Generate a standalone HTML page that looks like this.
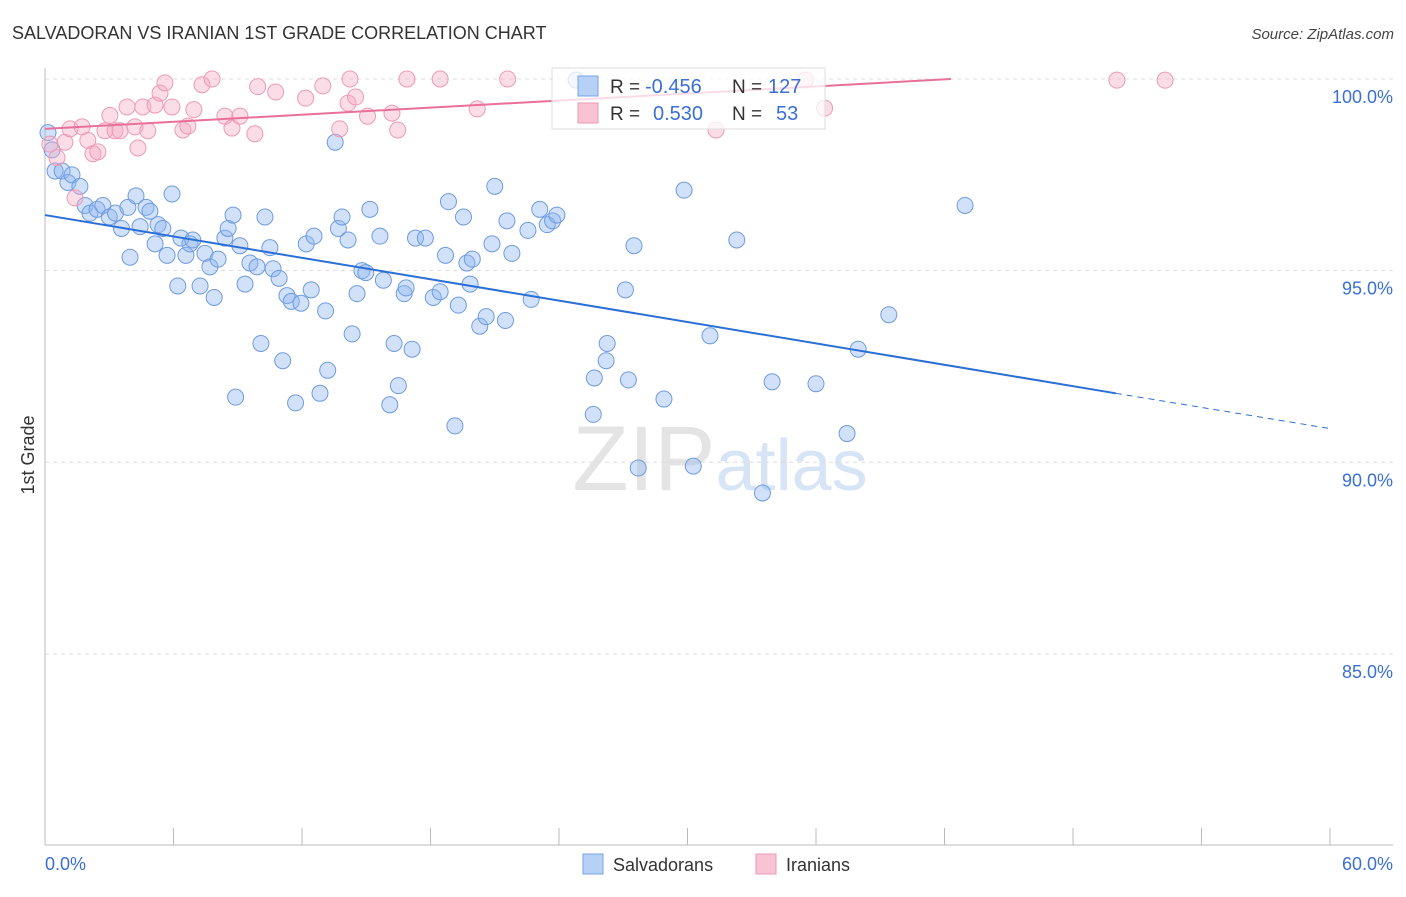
<!DOCTYPE html>
<html><head><meta charset="utf-8"><style>
body{margin:0;background:#fff;font-family:"Liberation Sans",sans-serif;}
svg text{font-family:"Liberation Sans",sans-serif;}
</style></head><body>
<svg id="chart" width="1406" height="892" xmlns="http://www.w3.org/2000/svg">
<text x="12" y="39" font-size="18" fill="#333">SALVADORAN VS IRANIAN 1ST GRADE CORRELATION CHART</text>
<text x="1394" y="39" font-size="15" fill="#444" text-anchor="end" font-style="italic">Source: ZipAtlas.com</text>
<text x="720" y="490" font-size="92" fill="#e4e4e4" text-anchor="middle" font-family="Liberation Serif">ZIP<tspan fill="#d6e4f5" font-family="Liberation Sans" font-size="72">atlas</tspan></text>
<text transform="translate(34,455) rotate(-90)" font-size="18" fill="#333" text-anchor="middle">1st Grade</text>
<g id="grid"></g><g id="axes"></g><g id="pts"></g><g id="lines"></g>
<g>
<rect x="552" y="68" width="273" height="61" fill="rgba(255,255,255,0.75)" stroke="#ddd"/>
<rect x="578" y="76" width="20" height="20" fill="#b7d0f5" stroke="#7aa6e8"/>
<rect x="578" y="103" width="20" height="20" fill="#f8c4d4" stroke="#eb9ab4"/>
<text x="610" y="93" font-size="19" fill="#333">R =</text>
<text x="645" y="93" font-size="20" fill="#3a6fd8">-0.456</text>
<text x="732" y="93" font-size="19" fill="#333">N =</text>
<text x="768" y="93" font-size="20" fill="#3a6fd8">127</text>
<text x="610" y="120" font-size="19" fill="#333">R =</text>
<text x="653" y="120" font-size="20" fill="#3a6fd8">0.530</text>
<text x="732" y="120" font-size="19" fill="#333">N =</text>
<text x="776" y="120" font-size="20" fill="#3a6fd8">53</text>
</g>
<g>
<rect x="583" y="854" width="20" height="20" fill="#b7d0f5" stroke="#7aa6e8"/>
<text x="613" y="871" font-size="18" fill="#333">Salvadorans</text>
<rect x="756" y="854" width="20" height="20" fill="#f8c4d4" stroke="#eb9ab4"/>
<text x="786" y="871" font-size="18" fill="#333">Iranians</text>
</g>
</svg>
<script>
const blueX=[0.14,0.33,0.47,0.8,1.07,1.26,1.63,1.87,2.1,2.43,2.7,3.0,3.29,3.57,3.87,3.97,4.25,4.44,4.72,4.9,5.14,5.28,5.5,5.7,5.93,6.2,6.35,6.58,6.77,6.9,7.24,7.47,7.7,7.9,8.08,8.4,8.55,8.78,8.9,9.1,9.34,9.57,9.9,10.08,10.27,10.5,10.65,10.93,11.1,11.3,11.5,11.7,11.95,12.2,12.43,12.56,12.84,13.1,13.2,13.55,13.7,13.87,14.15,14.34,14.57,14.8,14.98,15.17,15.64,15.8,16.3,16.1,16.5,16.77,16.86,17.14,17.3,17.76,18.13,18.45,18.7,18.84,19.14,19.3,19.54,19.7,19.95,19.85,20.3,20.6,20.87,21.0,21.5,21.57,21.8,22.55,22.7,23.1,23.45,23.7,23.9,24.8,25.65,25.6,26.2,26.25,27.1,27.24,27.5,27.7,28.9,29.84,30.27,31.05,32.3,33.5,33.95,36.0,37.45,37.97,39.4,42.96];
const blueY=[98.6,98.15,97.6,97.6,97.3,97.5,97.2,96.7,96.5,96.6,96.7,96.4,96.5,96.1,96.65,95.35,96.95,96.15,96.65,96.55,95.7,96.2,96.1,95.4,97.0,94.6,95.85,95.4,95.7,95.8,94.6,95.45,95.1,94.3,95.3,95.85,96.1,96.45,91.7,95.65,94.65,95.2,95.1,93.1,96.4,95.6,95.05,94.8,92.65,94.35,94.2,91.55,94.15,95.7,94.5,95.9,91.8,93.95,92.4,98.35,96.1,96.4,95.8,93.35,94.4,95.0,94.95,96.6,95.9,94.75,93.1,91.5,92.0,94.4,94.55,92.95,95.85,95.85,94.3,94.45,95.4,96.8,90.95,94.1,96.4,95.2,95.3,94.65,93.55,93.8,95.7,97.2,93.7,96.3,95.45,96.05,94.25,96.6,96.2,96.3,96.45,99.97,92.2,91.25,92.65,93.1,94.5,92.15,95.65,89.85,91.65,97.1,89.9,93.3,95.8,89.2,92.1,92.05,90.75,92.95,93.85,96.7];
const pinkX=[0.23,0.56,0.93,1.17,1.4,1.73,2.0,2.24,2.47,2.8,3.03,3.27,3.5,3.83,4.2,4.34,4.57,4.8,5.14,5.37,5.6,5.93,6.44,6.67,6.95,7.33,7.8,8.4,8.73,9.1,9.8,9.93,10.77,12.17,12.97,13.76,14.15,14.24,14.5,15.06,16.2,16.47,16.9,18.45,20.18,21.6,31.33,35.5,36.4,50.05,52.3];
const pinkY=[98.3,97.95,98.35,98.7,96.9,98.75,98.4,98.05,98.1,98.65,99.05,98.65,98.65,99.27,98.75,98.2,99.27,98.65,99.32,99.63,99.9,99.27,98.67,98.77,99.2,99.85,100,99.03,98.72,99.03,98.57,99.8,99.66,99.5,99.82,98.7,99.37,100,99.53,99.03,99.11,98.67,100,100,99.22,100,98.67,99.97,99.24,99.97,99.97];
const yTicks=[100,95,90,85];
const yTickLabels=["100.0%","95.0%","90.0%","85.0%"];
const blueTrend=[[0,96.45],[50,91.8],[60,90.88]];
const pinkTrend=[[0,98.7],[42.3,100]];
const NS="http://www.w3.org/2000/svg";
const sx=v=>45+v*1285/60, sy=v=>79+(100-v)*38.33;
function mk(t,a,p){const e=document.createElementNS(NS,t);for(const k in a)e.setAttribute(k,a[k]);p.appendChild(e);return e;}
const grid=document.getElementById('grid'),axes=document.getElementById('axes'),pts=document.getElementById('pts'),lines=document.getElementById('lines');
yTicks.forEach((v,i)=>{
 const l=mk('line',{x1:45,x2:1393,y1:sy(v),y2:sy(v),stroke:'#ddd','stroke-dasharray':'4,4'},grid);
 
 
 const t=mk('text',{x:1393,y:sy(v)+24,'font-size':18,fill:'#3a6fd8','text-anchor':'end'},axes);t.textContent=yTickLabels[i];
 
 
});
const ya=mk('line',{x1:45,x2:45,y1:68,y2:845,stroke:'#bbb'},axes);


const xa=mk('line',{x1:45,x2:1393,y1:845,y2:845,stroke:'#bbb'},axes);


for(let i=0;i<=10;i++){const tk=mk('line',{x1:sx(i*6),x2:sx(i*6),y1:828,y2:845,stroke:'#bbb'},axes);
 
 }
const x0=mk('text',{x:45,y:870,'font-size':18,fill:'#3a6fd8'},axes);x0.textContent='0.0%';


const x1=mk('text',{x:1393,y:870,'font-size':18,fill:'#3a6fd8','text-anchor':'end'},axes);x1.textContent='60.0%';


blueX.forEach((x,i)=>{const c=mk('circle',{cx:sx(x),cy:sy(blueY[i]),r:8,fill:'rgba(140,180,240,0.4)',stroke:'#6f9be0','stroke-width':1},pts);
 
 });
pinkX.forEach((x,i)=>{const c=mk('circle',{cx:sx(x),cy:sy(pinkY[i]),r:8,fill:'rgba(245,170,195,0.4)',stroke:'#ee9ab5','stroke-width':1},pts);
 
 });
const b1=mk('line',{x1:sx(blueTrend[0][0]),y1:sy(blueTrend[0][1]),x2:sx(blueTrend[1][0]),y2:sy(blueTrend[1][1]),stroke:'#2b6fd6','stroke-width':2},lines);


const b2=mk('line',{x1:sx(blueTrend[1][0]),y1:sy(blueTrend[1][1]),x2:sx(blueTrend[2][0]),y2:sy(blueTrend[2][1]),stroke:'#2b6fd6','stroke-width':1,'stroke-dasharray':'6,5'},lines);


const p1=mk('line',{x1:sx(pinkTrend[0][0]),y1:sy(pinkTrend[0][1]),x2:sx(pinkTrend[1][0]),y2:sy(pinkTrend[1][1]),stroke:'#e8709a','stroke-width':2},lines);


</script>
</body></html>
